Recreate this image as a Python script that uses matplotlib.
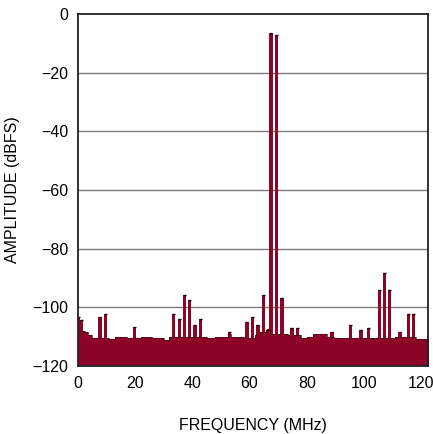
import numpy as np
import matplotlib
matplotlib.use('Agg')
import matplotlib.pyplot as plt

plt.rcParams['font.family'] = ['Liberation Sans', 'DejaVu Sans']

# noise floor, step breakpoints (MHz, dBFS)
floor_f = [0, 2.5, 3.5, 5, 11, 13, 17, 22, 26, 30, 32, 45, 48, 52.5, 53.5, 58,
           62, 63.5, 66, 67, 70.5, 73.5, 78, 80, 82, 87, 89.5, 96, 104, 111, 118, 122.88]
floor_db = [-108, -108.5, -109.5, -110.5, -110.8, -110.3, -110.5, -110.2, -110.6,
            -111.2, -110.3, -110.5, -110.2, -109, -110.3, -110.6, -109.5, -108.5,
            -107.5, -109, -109, -109.5, -110.5, -110, -109.2, -110.2, -110.5,
            -110.6, -110.5, -110.2, -110.8, -110.8]

# spurs and the two tones
spur_f = [0.3, 1.3, 7.7, 9.7, 19.8, 33.5, 35.4, 37.2, 39.1, 40.9, 42.8, 53.0,
          59.1, 61.0, 62.9, 64.8, 66.4, 67.5, 69.5, 71.3, 74.8, 76.8, 88.8, 95.2,
          98.9, 101.6, 105.3, 107.2, 109.0, 112.6, 115.5, 117.4]
spur_db = [-103.5, -104.5, -103.2, -102.3, -106.7, -102.3, -104, -95.9, -97.7,
           -105.9, -104, -108.6, -104.9, -103.2, -106, -95.9, -107.7, -6.4, -7.2,
           -97, -107, -107, -108.6, -106, -107.7, -107, -94.1, -88.5, -94.1,
           -108.6, -102.3, -102.3]

fill_col = '#8c0426'
edge_col = '#4a0015'

fig = plt.figure(figsize=(4.33, 4.34), dpi=100)
ax = fig.add_axes([0.180, 0.157, 0.808, 0.811])

ax.fill_between(floor_f, floor_db, -120, step='post', color=fill_col, lw=0)
ax.step(floor_f, floor_db, where='post', color=edge_col, lw=0.5)
sd = np.array(spur_db)
ax.bar(spur_f, sd + 120, bottom=-120, width=1.15, color=fill_col, linewidth=0)
ax.hlines(sd, np.array(spur_f) - 0.5, np.array(spur_f) + 0.5, color='#1a0008', lw=1.0)

ax.set_xlim(0, 122.3)
ax.set_ylim(-120, 0)
ax.set_xticks([0, 20, 40, 60, 80, 100, 120])
ax.set_yticks([0, -20, -40, -60, -80, -100, -120])
for yv in [-20, -40, -60, -80, -100]:
    ax.axhline(yv, color='#7a7a7a', lw=1.0, zorder=0.5)

ax.tick_params(axis='both', length=0, labelsize=11.5, pad=7)
for s in ['top', 'bottom', 'left', 'right']:
    ax.spines[s].set_linewidth(1.3)
    ax.spines[s].set_color('#222222')

ax.set_xlabel('FREQUENCY (MHz)', fontsize=11.5, labelpad=20)
ax.set_ylabel('AMPLITUDE (dBFS)', fontsize=11.5, labelpad=9)

fig.savefig('out.png', dpi=100)
